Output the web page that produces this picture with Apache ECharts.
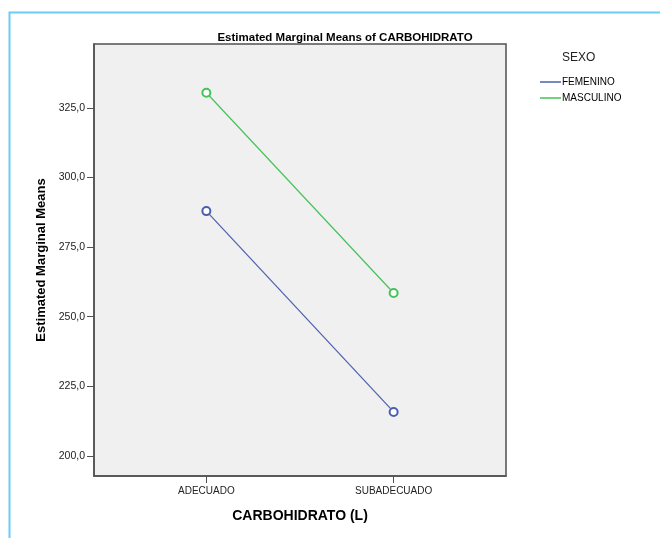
<!DOCTYPE html>
<html>
<head>
<meta charset="utf-8">
<script src="https://cdn.jsdelivr.net/npm/echarts@6/dist/echarts.min.js"></script>
<style>
  html, body { margin: 0; padding: 0; background: #fff; }
  #chart { width: 660px; height: 538px; }
</style>
</head>
<body>
<div id="chart"></div>
<script>
// Levels of the factor on the horizontal axis
const categories = ['ADECUADO', 'SUBADECUADO'];
// Estimated marginal means per sex
const femenino = [287.9, 215.8];
const masculino = [330.4, 258.5];
// Labelled values on the vertical axis
const yTicks = [200, 225, 250, 275, 300, 325];
const seriesNames = ['FEMENINO', 'MASCULINO'];
const colors = ['#4a5fb0', '#46c25a'];

const toPoints = arr => arr.map((v, i) => [i, v]);
const fmt = v => v.toFixed(1).replace('.', ',');
const font = '"Liberation Sans", Arial, sans-serif';

const chart = echarts.init(document.getElementById('chart'), null, { renderer: 'canvas' });

chart.setOption({
  animation: false,
  backgroundColor: '#ffffff',
  textStyle: { fontFamily: font },
  title: {
    text: 'Estimated Marginal Means of CARBOHIDRATO',
    left: 340, top: 27, textAlign: 'center',
    textStyle: { fontSize: 11.5, fontWeight: 'bold', color: '#000', fontFamily: font }
  },
  legend: {
    data: seriesNames,
    orient: 'vertical',
    left: 535, top: 72,
    icon: 'rect',
    itemWidth: 21, itemHeight: 1.5, itemGap: 6,
    textStyle: { fontSize: 10, color: '#000', padding: [0, 0, 0, -4] }
  },
  grid: {
    left: 94, right: 154, top: 44, bottom: 62,
    show: true, backgroundColor: '#f0f0f0', borderColor: '#505050', borderWidth: 1.5
  },
  xAxis: {
    type: 'value', min: -0.6, max: 1.6,
    name: 'CARBOHIDRATO (L)', nameLocation: 'middle', nameGap: 33,
    nameTextStyle: { fontSize: 14, fontWeight: 'bold', color: '#000' },
    axisLine: { show: true, onZero: false, lineStyle: { color: '#505050', width: 1.5 } },
    axisTick: { show: true, customValues: [0, 1], length: 7, lineStyle: { color: '#505050' } },
    axisLabel: { customValues: [0, 1], formatter: v => categories[Math.round(v)], fontSize: 10, color: '#222', margin: 10 },
    splitLine: { show: false }
  },
  yAxis: {
    type: 'value', min: 192.8, max: 347.9,
    name: 'Estimated Marginal Means', nameLocation: 'middle', nameGap: 44,
    nameTextStyle: { fontSize: 13, fontWeight: 'bold', color: '#000' },
    axisLine: { show: true, onZero: false, lineStyle: { color: '#505050', width: 1.5 } },
    axisTick: { show: true, customValues: yTicks, length: 7, lineStyle: { color: '#505050' } },
    axisLabel: { customValues: yTicks, formatter: fmt, fontSize: 10.5, color: '#222', margin: 9 },
    splitLine: { show: false }
  },
  graphic: [
    {
      type: 'rect', silent: true, z: -1,
      shape: { x: 9.5, y: 12.5, width: 700, height: 600 },
      style: { fill: 'none', stroke: '#6cccf4', lineWidth: 2 }
    },
    {
      type: 'text', left: 562, top: 52,
      style: { text: 'SEXO', fontSize: 12, fill: '#222', fontFamily: font }
    }
  ],
  series: [
    {
      name: seriesNames[0], type: 'line', data: toPoints(femenino),
      symbol: 'emptyCircle', symbolSize: 8,
      lineStyle: { color: colors[0], width: 1.2 },
      itemStyle: { color: colors[0], borderWidth: 1 }
    },
    {
      name: seriesNames[1], type: 'line', data: toPoints(masculino),
      symbol: 'emptyCircle', symbolSize: 8,
      lineStyle: { color: colors[1], width: 1.2 },
      itemStyle: { color: colors[1], borderWidth: 1 }
    }
  ]
});
</script>
</body>
</html>
